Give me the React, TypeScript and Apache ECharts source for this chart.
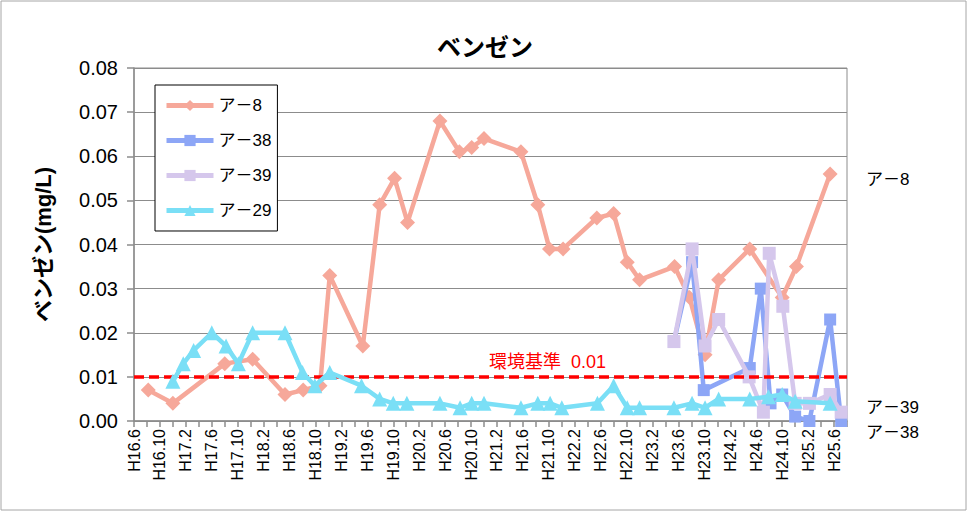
import React, { useEffect, useRef } from "react";
import * as echarts from "echarts";

// x values: months elapsed since H16.6 (June 2004); y values in mg/L
const xTickLabels = [
  "H16.6", "H16.10", "H17.2", "H17.6", "H17.10", "H18.2", "H18.6", "H18.10",
  "H19.2", "H19.6", "H19.10", "H20.2", "H20.6", "H20.10", "H21.2", "H21.6",
  "H21.10", "H22.2", "H22.6", "H22.10", "H23.2", "H23.6", "H23.10", "H24.2",
  "H24.6", "H24.10", "H25.2", "H25.6",
];
const yTickValues = [0, 0.01, 0.02, 0.03, 0.04, 0.05, 0.06, 0.07, 0.08];

const seriesNames = ["ア－8", "ア－38", "ア－39", "ア－29"];

const a8Months = [2.2, 6.0, 14.0, 18.3, 23.3, 26.1, 28.7, 30.2, 35.3, 37.9, 40.2, 42.2, 47.2, 50.2, 52.1, 54.0, 59.7, 62.3, 64.1, 66.2, 71.4, 74.0, 76.1, 78.0, 83.4, 85.7, 88.1, 90.2, 95.0, 100.0, 102.2, 107.4];
const a8Values = [0.007, 0.004, 0.013, 0.014, 0.006, 0.007, 0.008, 0.033, 0.017, 0.049, 0.055, 0.045, 0.068, 0.061, 0.062, 0.064, 0.061, 0.049, 0.039, 0.039, 0.046, 0.047, 0.036, 0.032, 0.035, 0.028, 0.015, 0.032, 0.039, 0.028, 0.035, 0.056];

const a38Months = [83.3, 86.1, 87.9, 95.0, 96.7, 98.2, 100.0, 102.0, 104.2, 107.4, 109.1];
const a38Values = [0.018, 0.036, 0.007, 0.012, 0.030, 0.004, 0.006, 0.001, 0.0, 0.023, 0.0];

const a39Months = [83.3, 86.1, 88.1, 90.2, 94.9, 97.1, 98.0, 100.1, 102.0, 104.2, 107.4, 109.1];
const a39Values = [0.018, 0.039, 0.017, 0.023, 0.010, 0.002, 0.038, 0.026, 0.004, 0.004, 0.006, 0.002];

const a29Months = [6.0, 7.6, 9.2, 12.0, 14.2, 16.1, 18.3, 23.3, 26.0, 27.9, 30.2, 35.1, 37.9, 40.0, 42.1, 47.2, 50.3, 52.1, 54.0, 59.7, 62.3, 64.2, 66.0, 71.5, 74.0, 76.1, 78.0, 83.3, 86.1, 88.1, 90.2, 95.0, 97.9, 100.0, 102.0, 107.4];
const a29Values = [0.009, 0.013, 0.016, 0.020, 0.017, 0.013, 0.020, 0.020, 0.011, 0.008, 0.011, 0.008, 0.005, 0.004, 0.004, 0.004, 0.003, 0.004, 0.004, 0.003, 0.004, 0.004, 0.003, 0.004, 0.008, 0.003, 0.003, 0.003, 0.004, 0.003, 0.005, 0.005, 0.0055, 0.006, 0.0045, 0.004];

const standardValue = 0.01;
const standardLabel = "環境基準  0.01";

const FONT = "'Liberation Sans', 'Noto Sans CJK JP', sans-serif";
const colors = ["#F6A89A", "#8DA6F6", "#D5C7EC", "#7ADFF6"];
const symbols = ["diamond", "rect", "rect", "triangle"];
const symbolSizes = [15, 12, 13, 15];

const zip = (xs: number[], ys: number[]) => xs.map((x, i) => [x, ys[i]]);

export default function App() {
  const ref = useRef<HTMLDivElement>(null);
  useEffect(() => {
    if (!ref.current) return;
    const chart = echarts.init(ref.current, undefined, { renderer: "svg" });
    const datasets = [
      zip(a8Months, a8Values),
      zip(a38Months, a38Values),
      zip(a39Months, a39Values),
      zip(a29Months, a29Values),
    ];
    const series: any[] = seriesNames.map((name, i) => ({
      name,
      type: "line",
      data: datasets[i],
      symbol: symbols[i],
      symbolSize: symbolSizes[i],
      showAllSymbol: true,
      lineStyle: { color: colors[i], width: 4.5 },
      itemStyle: { color: colors[i] },
      z: 2 + i,
    }));
    series[3].markLine = {
      silent: true,
      symbol: "none",
      label: { show: false },
      lineStyle: { color: "#FF0000", type: [10, 5], width: 3.5 },
      data: [{ yAxis: standardValue }],
    };
    chart.setOption({
      animation: false,
      textStyle: { fontFamily: FONT },
      title: {
        text: "ベンゼン",
        left: "center",
        top: 30,
        textStyle: { fontSize: 24, fontWeight: "bold", color: "#000", fontFamily: FONT },
      },
      grid: {
        left: 134,
        right: 123,
        top: 68,
        bottom: 92,
        show: true,
        borderColor: "#8c8c8c",
        borderWidth: 1,
      },
      legend: {
        orient: "vertical",
        left: 155,
        top: 85,
        padding: [12, 6, 12, 9],
        itemGap: 18,
        itemWidth: 47,
        itemHeight: 14,
        backgroundColor: "#fff",
        borderColor: "#000",
        borderWidth: 1,
        borderRadius: 0,
        lineStyle: { width: 5 },
        textStyle: { fontSize: 17, color: "#000", fontFamily: FONT },
        data: seriesNames,
      },
      xAxis: {
        type: "value",
        min: 0,
        max: 110,
        interval: 2,
        splitLine: { show: false },
        axisLine: { lineStyle: { color: "#8c8c8c", width: 1.5 } },
        axisTick: { show: true, length: 6, lineStyle: { color: "#8c8c8c", width: 1.5 } },
        axisLabel: {
          rotate: 90,
          margin: 8,
          fontSize: 16,
          color: "#000",
          fontFamily: FONT,
          showMaxLabel: true,
          formatter: (v: number) => {
            const r = Math.round(v);
            return r % 4 === 0 ? xTickLabels[r / 4] ?? "" : "";
          },
        },
      },
      yAxis: {
        type: "value",
        min: yTickValues[0],
        max: yTickValues[yTickValues.length - 1],
        interval: 0.01,
        name: "ベンゼン(mg/L)",
        nameLocation: "middle",
        nameGap: 80,
        nameTextStyle: { fontSize: 22, fontWeight: "bold", color: "#000", fontFamily: FONT },
        axisLine: { show: true, lineStyle: { color: "#8c8c8c", width: 1.5 } },
        axisTick: { show: true, length: 7, lineStyle: { color: "#8c8c8c", width: 1.5 } },
        splitLine: { lineStyle: { color: "#8c8c8c", width: 1 } },
        axisLabel: {
          margin: 16,
          fontSize: 20,
          color: "#000",
          fontFamily: FONT,
          formatter: (v: number) => v.toFixed(2),
        },
      },
      graphic: [
        {
          type: "rect",
          silent: true,
          shape: { x: 1, y: 1, width: 965, height: 509 },
          style: { fill: "none", stroke: "#a6a6a6", lineWidth: 1 },
          z: -1,
        },
        {
          type: "text",
          x: 489,
          y: 353,
          z: 100,
          style: { text: standardLabel, fill: "#FF0000", fontSize: 18, fontFamily: FONT },
        },
        {
          type: "text",
          x: 866,
          y: 171,
          style: { text: seriesNames[0], fill: "#000", fontSize: 17, fontFamily: FONT },
        },
        {
          type: "text",
          x: 866,
          y: 399,
          style: { text: seriesNames[2], fill: "#000", fontSize: 17, fontFamily: FONT },
        },
        {
          type: "text",
          x: 866,
          y: 424,
          style: { text: seriesNames[1], fill: "#000", fontSize: 17, fontFamily: FONT },
        },
      ],
      series,
    });
    return () => chart.dispose();
  }, []);
  return (
    <div
      ref={ref}
      style={{ position: "absolute", left: 0, top: 0, width: 970, height: 513, background: "#fff" }}
    />
  );
}
